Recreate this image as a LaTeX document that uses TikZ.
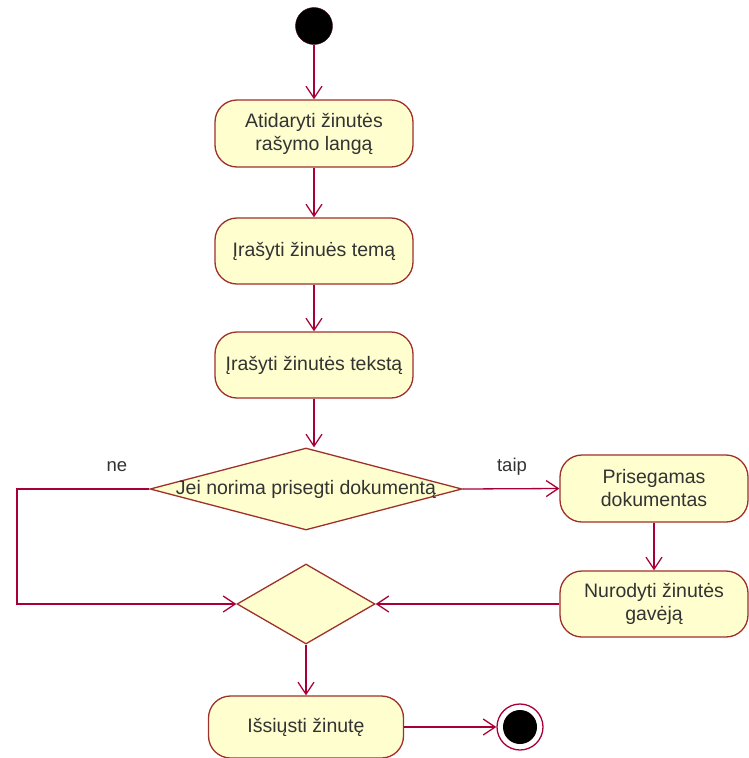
\documentclass[tikz,border=0pt]{standalone}
\usepackage{fontspec}
\setmainfont{Liberation Sans}
\usetikzlibrary{shapes.geometric,arrows.meta}
\definecolor{umlred}{HTML}{A80036}
\definecolor{umlborder}{HTML}{A0302A}
\definecolor{umlfill}{HTML}{FEFECE}
\definecolor{umltext}{HTML}{333333}
\tikzset{
  act/.style={draw=umlborder, fill=umlfill, rounded corners=22pt, line width=1.3pt,
    text=umltext, align=center, font=\fontsize{19.5}{23}\selectfont, inner sep=0pt},
  decision/.style={draw=umlborder, fill=umlfill, shape=diamond, line width=1.3pt, inner sep=0pt},
  dtext/.style={text=umltext, font=\fontsize{19.5}{23}\selectfont, inner sep=0pt},
  flow/.style={draw=umlred, line width=1.3pt, -{Straight Barb[length=12pt,width=16pt,line width=1.3pt]}},
  lbl/.style={text=umltext, font=\fontsize{18.5}{22}\selectfont, inner sep=0pt}
}
\begin{document}
\begin{tikzpicture}[x=1pt,y=-1pt]
\useasboundingbox (0,0) rectangle (749,758);
\fill[white] (0,0) rectangle (749,758);
% start
\node[circle, fill=black, draw=umlred!40!black, minimum size=37pt, inner sep=0pt] (start) at (314,26) {};
% activities
\node[act, minimum width=198pt, minimum height=67pt] (a1) at (314,133.5) {Atidaryti žinutės\\rašymo langą};
\node[act, minimum width=198pt, minimum height=66pt] (a2) at (314,251) {Įrašyti žinuės temą};
\node[act, minimum width=198pt, minimum height=66pt] (a3) at (314,365) {Įrašyti žinutės tekstą};
% decision 1
\node[decision, minimum width=312pt, minimum height=82pt] (d1) at (306,489) {};
\node[dtext] (d1t) at (306,489) {Jei norima prisegti dokumentą};
% right branch
\node[act, minimum width=188pt, minimum height=67pt] (p) at (654,488.5) {Prisegamas\\dokumentas};
\node[act, minimum width=188pt, minimum height=66pt] (n) at (654,604) {Nurodyti žinutės\\gavėją};
% merge
\node[decision, minimum width=138pt, minimum height=80pt] (d2) at (306,604) {};
% send
\node[act, minimum width=195pt, minimum height=62pt] (s) at (306,727) {Išsiųsti žinutę};
% end
\node[circle, draw=umlred, fill=white, line width=1.3pt, minimum size=46pt, inner sep=0pt] (end) at (520,727) {};
\node[circle, fill=black, minimum size=34pt, inner sep=0pt] (endin) at (end.center) {};
% corner coordinates
\coordinate (nl) at (17,489);
\coordinate (nb) at (17,604);
% connectors
\draw[flow] (start) -- (a1);
\draw[flow] (a1) -- (a2);
\draw[flow] (a2) -- (a3);
\draw[flow] (a3.south) -- (a3.south |- d1.north);
\draw[flow] (d1.east) -- (p.west);
\draw[flow] (d1.west) -- (nl) -- (nb) -- (d2.west);
\draw[flow] (p) -- (n);
\draw[flow] (n.west) -- (d2.east);
\draw[flow] (d2.south) -- (s.north);
\draw[flow] (s.east) -- (end.west);
% labels
\node[lbl] (ne) at (117,467) {ne};
\node[lbl] (taip) at (512,467) {taip};
\end{tikzpicture}
\end{document}
